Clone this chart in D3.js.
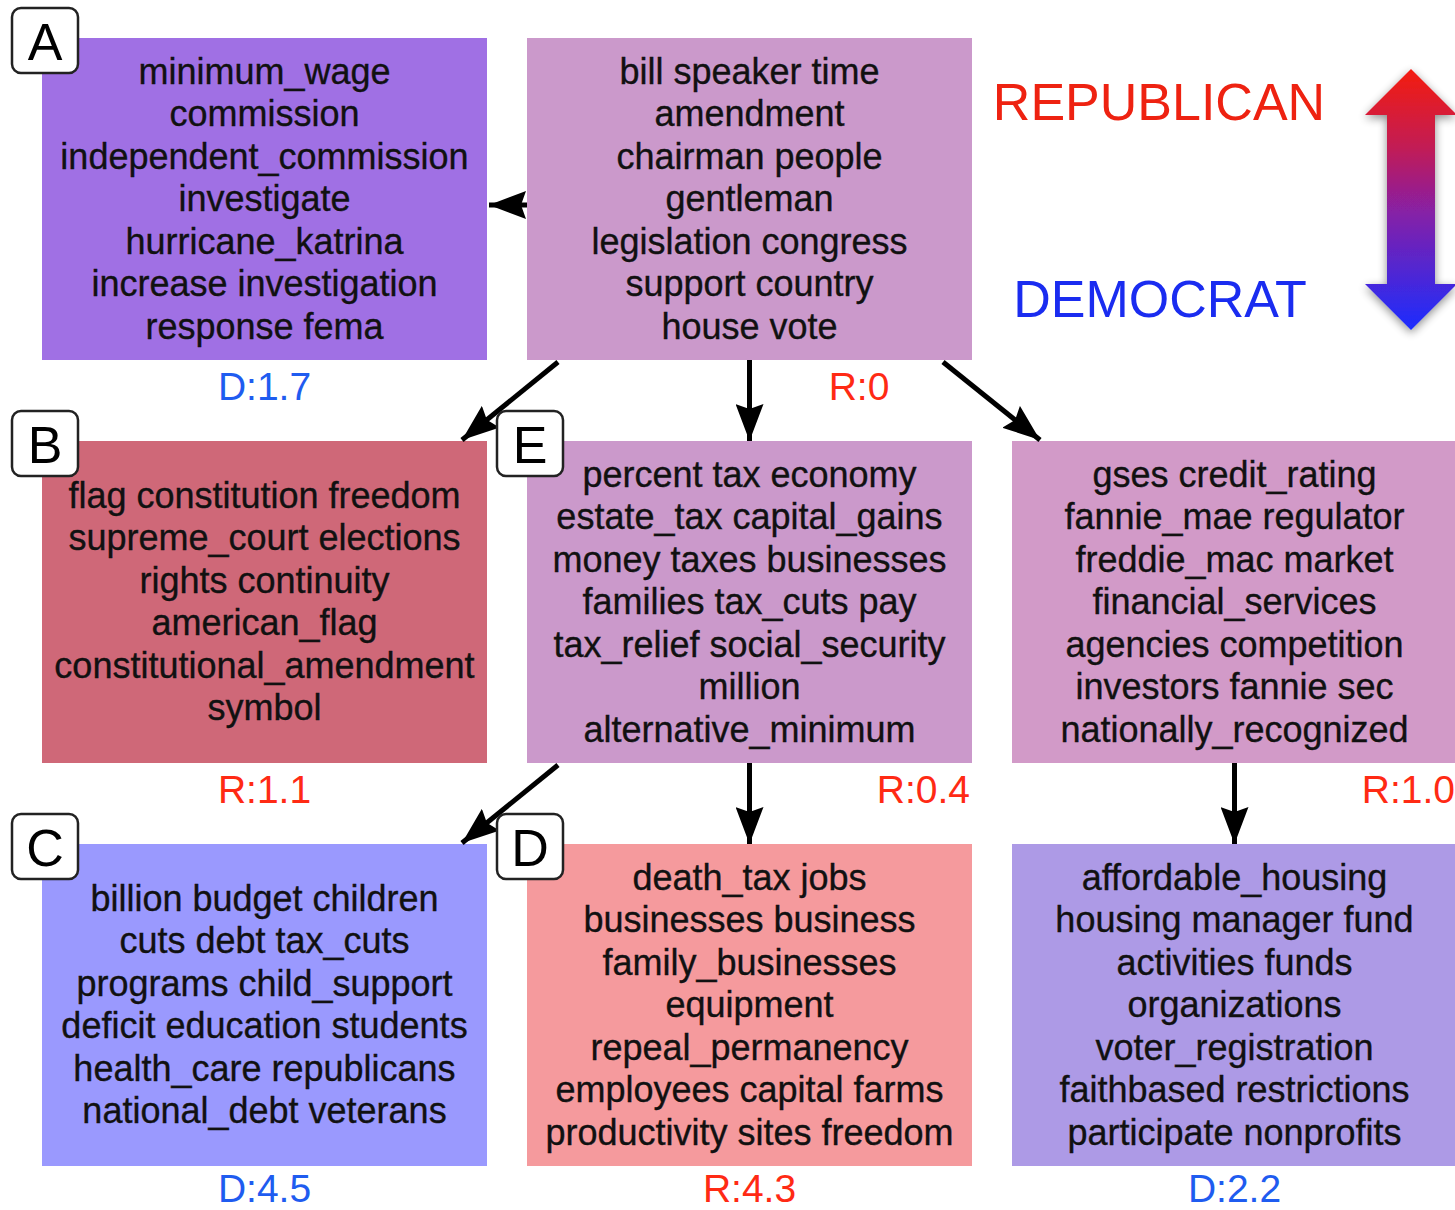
<!DOCTYPE html>
<html>
<head>
<meta charset="utf-8">
<script src="https://cdnjs.cloudflare.com/ajax/libs/d3/7.8.5/d3.min.js"></script>
<style>
  html, body { margin: 0; padding: 0; background: #fff; }
  svg { display: block; font-family: "Liberation Sans", Arial, Helvetica, sans-serif; }
</style>
</head>
<body>
<div id="chart"></div>
<script>
// topic tree: one entry per node
const nodeIds = ["root", "A", "B", "E", "F", "C", "D", "G"];
const nodeTags = ["", "A", "B", "E", "", "C", "D", ""];
const nodeWords = [
  ["bill speaker time", "amendment", "chairman people", "gentleman", "legislation congress", "support country", "house vote"],
  ["minimum_wage", "commission", "independent_commission", "investigate", "hurricane_katrina", "increase investigation", "response fema"],
  ["flag constitution freedom", "supreme_court elections", "rights continuity", "american_flag", "constitutional_amendment", "symbol"],
  ["percent tax economy", "estate_tax capital_gains", "money taxes businesses", "families tax_cuts pay", "tax_relief social_security", "million", "alternative_minimum"],
  ["gses credit_rating", "fannie_mae regulator", "freddie_mac market", "financial_services", "agencies competition", "investors fannie sec", "nationally_recognized"],
  ["billion budget children", "cuts debt tax_cuts", "programs child_support", "deficit education students", "health_care republicans", "national_debt veterans"],
  ["death_tax jobs", "businesses business", "family_businesses", "equipment", "repeal_permanency", "employees capital farms", "productivity sites freedom"],
  ["affordable_housing", "housing manager fund", "activities funds", "organizations", "voter_registration", "faithbased restrictions", "participate nonprofits"]
];
const nodeParty = ["R", "D", "R", "R", "R", "D", "R", "D"];
const nodeScore = ["0", "1.7", "1.1", "0.4", "1.0", "4.5", "4.3", "2.2"];

// parent -> child edges
const edgeFrom = ["root", "root", "root", "root", "E", "E", "F"];
const edgeTo   = ["A", "B", "E", "F", "C", "D", "G"];

const legendLabels = ["REPUBLICAN", "DEMOCRAT"];

// ---- layout / style (kept apart from the data) ----
const W = 1455, H = 1210;
const gridCol = {root: 1, A: 0, B: 0, E: 1, F: 2, C: 0, D: 1, G: 2};
const gridRow = {root: 0, A: 0, B: 1, E: 1, F: 1, C: 2, D: 2, G: 2};
const fills = {root: "#cb99cb", A: "#a070e4", B: "#cf6878", E: "#cb99cb",
               F: "#d29ac8", C: "#9a99fe", D: "#f59a9d", G: "#ad9ae6"};
// where the score label sits: [anchor, offset from box right edge]
const labelPos = {root: ["middle", -113], E: ["end", -2], F: ["end", -2]};
const partyColor = {R: "#ff2a14", D: "#1f5cf0"};

const x = d3.scaleBand().domain([0, 1, 2]).range([42, 1457]).paddingInner(40 / 485);
const y = d3.scaleBand().domain([0, 1, 2]).range([38, 1166]).paddingInner(81 / 403);
const bw = x.bandwidth(), bh = y.bandwidth();

const fontSize = 36, lineH = 42.5;

const svg = d3.select("#chart").append("svg")
  .attr("width", W).attr("height", H);

const defs = svg.append("defs");
defs.append("marker")
  .attr("id", "head")
  .attr("markerUnits", "userSpaceOnUse")
  .attr("viewBox", "0 0 37 28")
  .attr("refX", 37).attr("refY", 14)
  .attr("markerWidth", 37).attr("markerHeight", 28)
  .attr("orient", "auto")
  .append("path").attr("d", "M0,0 L37,14 L0,28 L5,14 Z").attr("fill", "#000");

const grad = defs.append("linearGradient").attr("id", "partyGrad")
  .attr("x1", 0).attr("y1", 0).attr("x2", 0).attr("y2", 1);
grad.append("stop").attr("offset", "0").attr("stop-color", "#f41c0e");
grad.append("stop").attr("offset", "0.3").attr("stop-color", "#c21d55");
grad.append("stop").attr("offset", "0.55").attr("stop-color", "#8620a6");
grad.append("stop").attr("offset", "1").attr("stop-color", "#1b2dff");

const shadow = defs.append("filter").attr("id", "shadow")
  .attr("x", "-30%").attr("y", "-10%").attr("width", "160%").attr("height", "120%");
shadow.append("feGaussianBlur").attr("in", "SourceAlpha").attr("stdDeviation", 5).attr("result", "blur");
shadow.append("feOffset").attr("in", "blur").attr("dx", 0).attr("dy", 3).attr("result", "off");
shadow.append("feComponentTransfer").attr("in", "off").attr("result", "soft")
  .append("feFuncA").attr("type", "linear").attr("slope", 0.45);
const merge = shadow.append("feMerge");
merge.append("feMergeNode").attr("in", "soft");
merge.append("feMergeNode").attr("in", "SourceGraphic");

const box = id => {
  const x0 = x(gridCol[id]), y0 = y(gridRow[id]);
  return {x0: x0, y0: y0, x1: x0 + bw, y1: y0 + bh, cx: x0 + bw / 2, cy: y0 + bh / 2};
};

// ---- boxes ----
const nodes = svg.append("g").selectAll("g")
  .data(nodeIds)
  .join("g");

nodes.append("rect")
  .attr("x", d => box(d).x0).attr("y", d => box(d).y0)
  .attr("width", bw).attr("height", bh)
  .attr("fill", d => fills[d]);

nodes.each(function(d, i) {
  const b = box(d);
  const lines = nodeWords[i];
  const first = b.cy - (lines.length - 1) / 2 * lineH + 12;
  d3.select(this).append("text")
    .attr("text-anchor", "middle")
    .attr("font-size", fontSize)
    .attr("fill", "#111")
    .attr("stroke", "#111").attr("stroke-width", 0.35)
    .selectAll("tspan")
    .data(lines)
    .join("tspan")
    .attr("x", b.cx)
    .attr("y", (l, k) => first + k * lineH)
    .text(l => l);

  // score label under the box (bottom row nudged so it stays inside the page)
  const lp = labelPos[d] || ["middle", null];
  d3.select(this).append("text")
    .attr("text-anchor", lp[0])
    .attr("x", lp[1] === null ? b.cx : b.x1 + lp[1])
    .attr("y", Math.min(b.y1 + 40, H - 8))
    .attr("font-size", 39)
    .attr("fill", partyColor[nodeParty[i]])
    .text(nodeParty[i] + ":" + nodeScore[i]);
});

// ---- edges ----
const edgePoints = (p, c) => {
  const a = box(p), b = box(c);
  if (gridRow[p] === gridRow[c]) return [a.x0, a.cy + 6, b.x1 + 2, b.cy + 6];
  if (gridCol[p] === gridCol[c]) return [a.cx, a.y1, b.cx, b.y0];
  if (gridCol[c] < gridCol[p]) return [a.x0 + 31, a.y1 + 2, b.x1 - 25, b.y0 - 1];
  return [a.x1 - 29, a.y1 + 2, b.x0 + 28, b.y0 - 1];
};

svg.append("g").selectAll("line")
  .data(edgeFrom.map((f, i) => edgePoints(f, edgeTo[i])))
  .join("line")
  .attr("x1", d => d[0]).attr("y1", d => d[1])
  .attr("x2", d => d[2]).attr("y2", d => d[3])
  .attr("stroke", "#000").attr("stroke-width", 5)
  .attr("marker-end", "url(#head)");

// ---- letter tags ----
const tagged = nodeIds.filter((d, i) => nodeTags[i]);
const tags = svg.append("g").selectAll("g")
  .data(tagged)
  .join("g")
  .attr("transform", d => `translate(${box(d).x0 - 30},${box(d).y0 - 30})`);
tags.append("rect")
  .attr("x", 0).attr("y", 0).attr("width", 66).attr("height", 65)
  .attr("rx", 9).attr("fill", "#fff").attr("stroke", "#222").attr("stroke-width", 2.5);
tags.append("text")
  .attr("x", 33).attr("y", 52)
  .attr("text-anchor", "middle")
  .attr("font-size", 52)
  .attr("fill", "#000")
  .text(d => nodeTags[nodeIds.indexOf(d)]);

// ---- party legend ----
svg.append("text")
  .attr("x", 1159).attr("y", 120)
  .attr("text-anchor", "middle")
  .attr("font-size", 52)
  .attr("fill", "#ee2211")
  .text(legendLabels[0]);
svg.append("text")
  .attr("x", 1160).attr("y", 317)
  .attr("text-anchor", "middle")
  .attr("font-size", 52)
  .attr("fill", "#1a2cf0")
  .text(legendLabels[1]);

const ax = 1411, hw = 46, sw = 24, arrTop = 69, arrBot = 330, headL = 46;
svg.append("path")
  .attr("d", `M${ax},${arrTop} L${ax + hw},${arrTop + headL} L${ax + sw},${arrTop + headL}
              L${ax + sw},${arrBot - headL} L${ax + hw},${arrBot - headL} L${ax},${arrBot}
              L${ax - hw},${arrBot - headL} L${ax - sw},${arrBot - headL} L${ax - sw},${arrTop + headL}
              L${ax - hw},${arrTop + headL} Z`)
  .attr("fill", "url(#partyGrad)")
  .attr("filter", "url(#shadow)");
</script>
</body>
</html>
